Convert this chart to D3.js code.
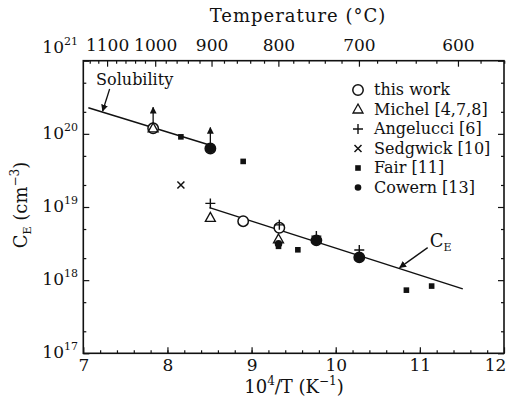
<!DOCTYPE html>
<html><head><meta charset="utf-8">
<script src="https://cdn.jsdelivr.net/npm/d3@7"></script>
<style>body{margin:0;background:#fff}svg{display:block}</style>
</head><body><svg id="c" width="509" height="401"></svg>
<script>
// ---------- data ----------
const xTicks = [7, 8, 9, 10, 11, 12];
const yTickExps = [17, 18, 19, 20, 21];
const tempLabels = [1100, 1000, 900, 800, 700, 600];

const solX = [7.06, 8.51];
const solY = [2.28e20, 7.0e19];
const ceX = [8.50, 11.51];
const ceY = [9.8e18, 7.6e17];

const thisWorkX = [7.83, 8.51, 8.90, 9.33, 9.77, 10.28];
const thisWorkY = [1.19e20, 6.3e19, 6.4e18, 5.2e18, 3.5e18, 2.05e18];
const michelX = [7.83, 8.51, 9.32];
const michelY = [1.19e20, 7.1e18, 3.6e18];
const angelucciX = [8.51, 9.33, 9.77, 10.28];
const angelucciY = [1.12e19, 5.7e18, 4.0e18, 2.58e18];
const sedgwickX = [8.16];
const sedgwickY = [2.0e19];
const fairX = [8.16, 8.90, 9.32, 9.55, 10.84, 11.14];
const fairY = [9.1e19, 4.2e19, 2.9e18, 2.6e18, 7.3e17, 8.3e17];
const cowernX = [8.51, 9.32, 9.77, 10.28];
const cowernY = [6.3e19, 3.15e18, 3.5e18, 2.05e18];
const arrowX = [7.83, 8.51];
const arrowY = [1.19e20, 6.3e19];

const legendLabels = ["this work", "Michel [4,7,8]", "Angelucci [6]", "Sedgwick [10]", "Fair [11]", "Cowern [13]"];
const legendKinds = ["circle", "triangle", "plus", "cross", "square", "dot"];

// ---------- layout ----------
const svg = d3.select("#c");
const L = 83.3, R = 504, T = 60.7, B = 353.3;
const x = d3.scaleLinear().domain([7, 12]).range([L, R]);
const y = d3.scaleLog().domain([1e17, 1e21]).range([B, T]);
const FONT = "DejaVu Serif";
const ink = "#111";

// minor log ticks
const minorY = [];
for (let e = 17; e < 21; e++) { minorY.push(2 * 10 ** e, 5 * 10 ** e); }

// bottom axis
const gB = svg.append("g").attr("transform", `translate(0,${B})`);
gB.call(d3.axisBottom(x).tickValues(xTicks).tickSize(-6).tickPadding(6).tickFormat(d3.format("d")));
gB.selectAll(".tick text").filter(d => d === 12).attr("dx", -9);
svg.append("g").attr("transform", `translate(0,${B})`)
  .call(d3.axisBottom(x).tickValues(d3.range(7.2, 12, 0.2)).tickSize(-3).tickFormat(""));
// left axis
svg.append("g").attr("transform", `translate(${L},0)`)
  .call(d3.axisLeft(y).tickValues(yTickExps.map(e => 10 ** e)).tickSize(-6).tickFormat(""));
svg.append("g").attr("transform", `translate(${L},0)`)
  .call(d3.axisLeft(y).tickValues(minorY).tickSize(-3).tickFormat(""));
// right axis
svg.append("g").attr("transform", `translate(${R},0)`)
  .call(d3.axisRight(y).tickValues(yTickExps.map(e => 10 ** e)).tickSize(-6).tickFormat(""));
svg.append("g").attr("transform", `translate(${R},0)`)
  .call(d3.axisRight(y).tickValues(minorY).tickSize(-3).tickFormat(""));
// top axis (temperature)
const tx = t => 1e4 / (t + 273.15);
const gT = svg.append("g").attr("transform", `translate(0,${T})`);
gT.call(d3.axisTop(x).tickValues(tempLabels.map(tx)).tickSize(-6).tickPadding(10)
  .tickFormat((d, i) => tempLabels[i]));
svg.append("g").attr("transform", `translate(0,${T})`)
  .call(d3.axisTop(x).tickValues(d3.range(1140, 559, -20).filter(t => t % 100 !== 0).map(tx)).tickSize(-3).tickFormat(""));

svg.selectAll(".domain").remove();
svg.selectAll(".tick line").attr("stroke", ink).attr("stroke-width", 1.2);
svg.selectAll(".tick text").attr("font-family", FONT).attr("font-size", 17).attr("fill", ink);

// frame
svg.append("rect").attr("x", L).attr("y", T).attr("width", R - L).attr("height", B - T)
  .attr("fill", "none").attr("stroke", ink).attr("stroke-width", 1.6);

// y tick labels
const yl = svg.append("g").selectAll("text").data(yTickExps).join("text")
  .attr("x", 78).attr("y", e => y(10 ** e) + (e === 21 ? -8 : 5))
  .attr("text-anchor", "end").attr("font-family", FONT).attr("font-size", 17).attr("fill", ink);
yl.append("tspan").text("10");
yl.append("tspan").attr("dy", -8).attr("font-size", 11).text(e => e);

// axis titles
svg.append("text").attr("x", 298).attr("y", 22).attr("text-anchor", "middle")
  .attr("font-family", FONT).attr("font-size", 18).attr("letter-spacing", 1).attr("fill", ink).text("Temperature (°C)");
const xt = svg.append("text").attr("x", 294).attr("y", 393).attr("text-anchor", "middle")
  .attr("font-family", FONT).attr("font-size", 18).attr("fill", ink);
xt.append("tspan").text("10");
xt.append("tspan").attr("dy", -8).attr("font-size", 12).text("4");
xt.append("tspan").attr("dy", 8).text("/T (K");
xt.append("tspan").attr("dy", -8).attr("font-size", 12).text("−1");
xt.append("tspan").attr("dy", 8).text(")");
const ytl = svg.append("text").attr("transform", "translate(27,205) rotate(-90)").attr("text-anchor", "middle")
  .attr("font-family", FONT).attr("font-size", 18).attr("fill", ink);
ytl.append("tspan").text("C");
ytl.append("tspan").attr("dy", 4).attr("font-size", 11).text("E");
ytl.append("tspan").attr("dy", -4).text(" (cm");
ytl.append("tspan").attr("dy", -8).attr("font-size", 12).text("−3");
ytl.append("tspan").attr("dy", 8).text(")");

// lines
const line = d3.line().x(d => x(d[0])).y(d => y(d[1]));
svg.append("path").datum(d3.zip(solX, solY)).attr("d", line).attr("fill", "none").attr("stroke", ink).attr("stroke-width", 1.5);
svg.append("path").datum(d3.zip(ceX, ceY)).attr("d", line).attr("fill", "none").attr("stroke", ink).attr("stroke-width", 1.5);

// arrow marker
svg.append("defs").append("marker").attr("id", "ah").attr("viewBox", "0 0 10 10").attr("refX", 9).attr("refY", 5)
  .attr("markerWidth", 7).attr("markerHeight", 7).attr("orient", "auto-start-reverse").attr("markerUnits", "userSpaceOnUse")
  .append("path").attr("d", "M0,0 L10,5 L0,10 z").attr("fill", ink);

// upward arrows on solubility points
svg.append("g").selectAll("line").data(d3.zip(arrowX, arrowY)).join("line")
  .attr("x1", d => x(d[0])).attr("x2", d => x(d[0]))
  .attr("y1", d => y(d[1]) - 5).attr("y2", d => y(d[1]) - 21)
  .attr("stroke", ink).attr("stroke-width", 1.3).attr("marker-end", "url(#ah)");

// marker drawing
function drawMarker(g, kind, cx, cy, big, r) {
  if (kind === "circle") g.append("circle").attr("cx", cx).attr("cy", cy).attr("r", 5.2).attr("fill", "#fff").attr("stroke", ink).attr("stroke-width", 1.5);
  else if (kind === "triangle") g.append("path").attr("d", `M${cx},${cy - 5.5}L${cx + 5},${cy + 3.5}L${cx - 5},${cy + 3.5}Z`).attr("fill", "none").attr("stroke", ink).attr("stroke-width", 1.3);
  else if (kind === "plus") g.append("path").attr("d", `M${cx - 5},${cy}H${cx + 5}M${cx},${cy - 5}V${cy + 5}`).attr("stroke", ink).attr("stroke-width", 1.4);
  else if (kind === "cross") g.append("path").attr("d", `M${cx - 3.5},${cy - 3.5}L${cx + 3.5},${cy + 3.5}M${cx - 3.5},${cy + 3.5}L${cx + 3.5},${cy - 3.5}`).attr("stroke", ink).attr("stroke-width", 1.5);
  else if (kind === "square") g.append("rect").attr("x", cx - 2.8).attr("y", cy - 2.8).attr("width", 5.6).attr("height", 5.6).attr("fill", ink);
  else if (kind === "dot") g.append("circle").attr("cx", cx).attr("cy", cy).attr("r", big ? (r || 5) : 3.3).attr("fill", ink);
}
const pts = svg.append("g");
const series = [
  ["circle", thisWorkX, thisWorkY], ["triangle", michelX, michelY], ["plus", angelucciX, angelucciY],
  ["cross", sedgwickX, sedgwickY], ["square", fairX, fairY], ["dot", cowernX, cowernY]
];
series.forEach(([k, xs, ys]) => xs.forEach((xv, i) => drawMarker(pts, k, x(xv), y(ys[i]), true, (k === "dot" && i === 1) ? 3.8 : 5)));

// annotations
const solT = 7.23;
const solAt = 10 ** (Math.log10(solY[0]) + (solT - solX[0]) / (solX[1] - solX[0]) * (Math.log10(solY[1]) - Math.log10(solY[0])));
svg.append("line").attr("x1", x(solT) + 7).attr("y1", y(solAt) - 23).attr("x2", x(solT)).attr("y2", y(solAt) - 1)
  .attr("stroke", ink).attr("stroke-width", 1.3).attr("marker-end", "url(#ah)");
svg.append("text").attr("x", x(solT) + 32).attr("y", y(solAt) - 27).attr("text-anchor", "middle")
  .attr("font-family", FONT).attr("font-size", 16).attr("fill", ink).text("Solubility");

const ceT = 10.76;
const ceAt = 10 ** (Math.log10(ceY[0]) + (ceT - ceX[0]) / (ceX[1] - ceX[0]) * (Math.log10(ceY[1]) - Math.log10(ceY[0])));
svg.append("line").attr("x1", x(ceT) + 28).attr("y1", y(ceAt) - 21).attr("x2", x(ceT)).attr("y2", y(ceAt) - 1)
  .attr("stroke", ink).attr("stroke-width", 1.3).attr("marker-end", "url(#ah)");
const ceL = svg.append("text").attr("x", x(ceT) + 30).attr("y", y(ceAt) - 22)
  .attr("font-family", FONT).attr("font-size", 18).attr("fill", ink);
ceL.append("tspan").text("C");
ceL.append("tspan").attr("dy", 4).attr("font-size", 11).text("E");

// legend
const lg = svg.append("g");
legendLabels.forEach((t, i) => {
  const ly = 90 + i * 19.5;
  drawMarker(lg, legendKinds[i], 358, ly, false);
  lg.append("text").attr("x", 374).attr("y", ly + 5).attr("font-family", FONT).attr("font-size", 16).attr("fill", ink).text(t);
});
</script></body></html>
